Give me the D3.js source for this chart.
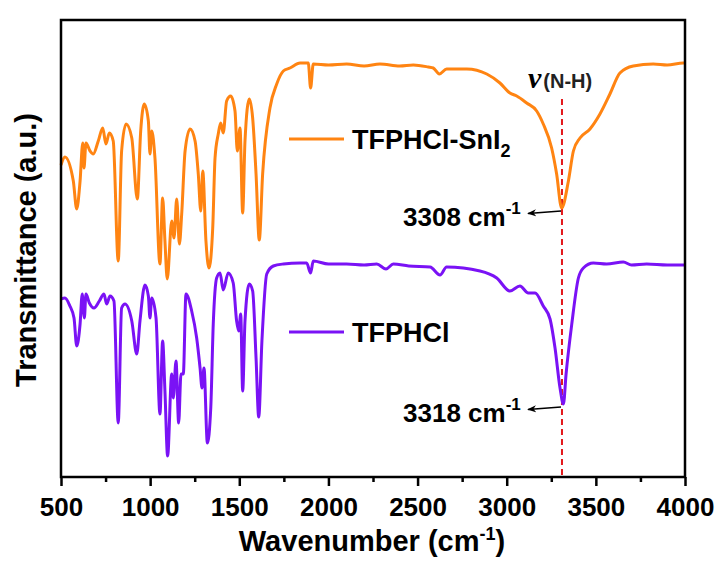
<!DOCTYPE html>
<html><head><meta charset="utf-8">
<script src="https://cdn.jsdelivr.net/npm/d3@7"></script>
<style>body{margin:0;background:#fff}svg{display:block}</style>
</head><body>
<svg id="c" width="723" height="563"></svg>
<script>
// ---- data (wavenumber cm^-1, transmittance a.u.) ----
const wnSnI2 = [500,522,569,588,607,622,629,640,663,681,709,734,752,771,793,821,840,865,897,928,947,967,990,999,1009,1027,1055,1070,1083,1096,1121,1134,1149,1164,1177,1196,1224,1252,1270,1284,1295,1313,1330,1351,1364,1382,1396,1410,1429,1452,1476,1489,1504,1519,1532,1556,1575,1594,1612,1631,1672,1710,1747,1784,1841,1887,1900,1915,2000,2102,2200,2289,2400,2476,2560,2588,2622,2663,2776,2888,2962,3018,3056,3112,3168,3205,3252,3280,3308,3346,3374,3411,3467,3523,3579,3635,3710,3822,3900,3990,4000];
const tSnI2  = [312,320,296,268,296,334,309,334,326,323,336,349,333,344,336,216,326,353,339,278,346,373,356,323,346,319,213,279,236,198,256,239,278,233,263,326,348,336,303,266,306,236,209,249,319,343,354,344,376,381,366,326,349,264,336,378,359,303,237,303,369,393,406,409,414,414,389,413,412,413,411,413,411,412,410,409,403,408,408,403,394,384,381,374,366,353,329,303,269,296,326,339,348,363,383,404,411,413,412,414,414];

const wnTF = [500,522,550,573,588,607,619,631,640,659,685,715,741,756,775,797,821,840,859,897,925,943,971,990,999,1009,1033,1055,1070,1083,1098,1121,1130,1145,1160,1173,1186,1201,1233,1261,1280,1291,1302,1321,1340,1354,1373,1392,1410,1438,1466,1485,1497,1508,1519,1532,1556,1575,1594,1609,1627,1654,1691,1747,1841,1878,1900,1915,2000,2102,2200,2271,2323,2364,2450,2570,2626,2663,2850,2944,3018,3074,3121,3159,3205,3243,3271,3299,3318,3333,3365,3402,3430,3486,3560,3654,3700,3785,3900,3990,4000];
const tTF  = [178,179,171,159,131,153,183,159,183,174,169,176,183,173,181,176,54,169,173,156,123,156,192,181,159,179,159,63,136,86,21,103,79,116,54,103,103,183,166,139,109,89,109,34,69,153,199,204,187,204,194,156,146,163,86,156,193,186,119,60,136,203,211,213,214,214,204,216,213,213,212,213,208,213,211,210,202,210,206,199,186,191,184,184,171,158,129,89,73,103,153,199,209,214,213,215,212,213,212,212,212];

const seriesNames = ["TFPHCl-SnI2","TFPHCl"];
const seriesColors = ["#ff8412","#7a12f5"];
const xTicks = [500,1000,1500,2000,2500,3000,3500,4000];
const xMinorTicks = [750,1250,1750,2250,2750,3250,3750];
const peakLines = [3310];
const peakLabels = [{wn:3308, t:269, label:"3308"},{wn:3318, t:73, label:"3318"}];

// ---- layout ----
const svg = d3.select("#c");
const L=61, R=685, T=20, B=477;
const x = d3.scaleLinear().domain([500,4000]).range([L,R]);
const y = d3.scaleLinear().domain([0,457]).range([B,T]);
const font = "'Liberation Sans', Arial, Helvetica, sans-serif";

// red dashed line
svg.append("line").attr("x1",x(peakLines[0])).attr("x2",x(peakLines[0]))
  .attr("y1",99).attr("y2",B).attr("stroke","#e3191c").attr("stroke-width",2)
  .attr("stroke-dasharray","6,4");

// spectra
const line = d3.line().x(d=>x(d[0])).y(d=>y(d[1])).curve(d3.curveMonotoneX);
[[wnSnI2,tSnI2],[wnTF,tTF]].forEach((s,i)=>{
  svg.append("path").datum(d3.zip(s[0],s[1])).attr("d",line)
    .attr("fill","none").attr("stroke",seriesColors[i]).attr("stroke-width",3)
    .attr("stroke-linejoin","round");
});

// frame
svg.append("rect").attr("x",L).attr("y",T).attr("width",R-L).attr("height",B-T)
  .attr("fill","none").attr("stroke","#000").attr("stroke-width",2.5);

// x axis
const gx = svg.append("g").attr("transform",`translate(0,${B})`)
  .call(d3.axisBottom(x).tickValues(xTicks).tickSize(9).tickFormat(d3.format("d")));
gx.select(".domain").remove();
gx.selectAll(".tick line").attr("stroke","#000").attr("stroke-width",2.5);
gx.selectAll(".tick text").attr("font-family",font).attr("font-weight","bold")
  .attr("font-size","26px").attr("fill","#000").attr("dy","1.05em");
const gxm = svg.append("g").attr("transform",`translate(0,${B})`)
  .call(d3.axisBottom(x).tickValues(xMinorTicks).tickSize(5).tickFormat(""));
gxm.select(".domain").remove();
gxm.selectAll(".tick line").attr("stroke","#000").attr("stroke-width",2.5);

// axis titles
const xt = svg.append("text").attr("x",372).attr("y",551).attr("text-anchor","middle")
  .attr("font-family",font).attr("font-weight","bold").attr("font-size","29px");
xt.append("tspan").text("Wavenumber (cm");
xt.append("tspan").attr("font-size","18px").attr("dy","-11").text("-1");
xt.append("tspan").attr("dy","11").text(")");

svg.append("text").attr("transform","translate(36,250) rotate(-90)").attr("text-anchor","middle")
  .attr("font-family",font).attr("font-weight","bold").attr("font-size","29px")
  .text("Transmittance (a.u.)");

// legends
const legY = [139,332];
seriesNames.forEach((n,i)=>{
  svg.append("line").attr("x1",289).attr("x2",344).attr("y1",legY[i]).attr("y2",legY[i])
    .attr("stroke",seriesColors[i]).attr("stroke-width",3);
  const t = svg.append("text").attr("x",352).attr("y",legY[i]+10)
    .attr("font-family",font).attr("font-weight","bold").attr("font-size","27px");
  if(n.endsWith("2")){
    t.append("tspan").text(n.slice(0,-1));
    t.append("tspan").attr("font-size","18px").attr("dy","8").text("2");
  } else t.text(n);
});

// peak annotations
svg.append("defs").append("marker").attr("id","ah").attr("viewBox","0 0 10 10")
  .attr("refX",9).attr("refY",5).attr("markerWidth",7).attr("markerHeight",7)
  .attr("orient","auto").append("path").attr("d","M0,1 L10,5 L0,9 L3,5 Z").attr("fill","#000");
peakLabels.forEach(p=>{
  const py = y(p.t)+3;
  svg.append("line").attr("x1",x(peakLines[0])-1).attr("y1",py).attr("x2",528).attr("y2",py+2.5)
    .attr("stroke","#000").attr("stroke-width",1.3).attr("marker-end","url(#ah)");
  const t = svg.append("text").attr("x",403).attr("y",py+15)
    .attr("font-family",font).attr("font-weight","bold").attr("font-size","26px");
  t.append("tspan").text(p.label+" cm");
  t.append("tspan").attr("font-size","17px").attr("dy","-12").text("-1");
});

// nu(N-H)
const nu = svg.append("text").attr("x",528).attr("y",88);
nu.append("tspan").attr("font-family","'Liberation Serif','Times New Roman',serif")
  .attr("font-style","italic").attr("font-weight","bold").attr("font-size","30px").text("ν");
nu.append("tspan").attr("font-family",font).attr("font-weight","bold").attr("font-size","20px").attr("fill","#222")
  .attr("dx","2").text("(N-H)");
</script>
</body></html>
